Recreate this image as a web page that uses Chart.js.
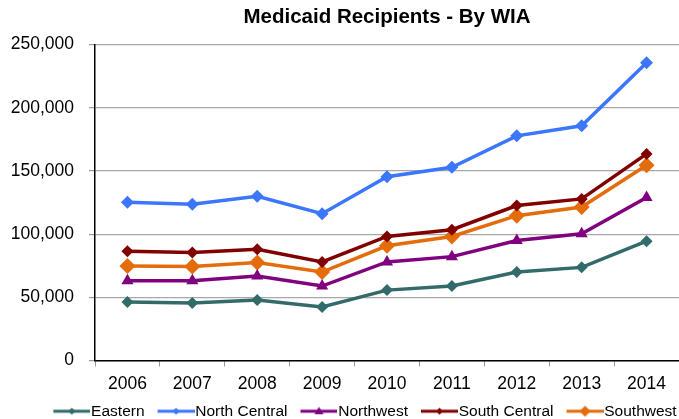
<!DOCTYPE html>
<html>
<head>
<meta charset="utf-8">
<script src="https://cdn.jsdelivr.net/npm/chart.js@4"></script>
<style>
  html, body { margin:0; padding:0; background:#fff; overflow:hidden; }
  #wrap { width:679px; height:419px; overflow:hidden; }
  #box { width:687px; height:429px; }
</style>
</head>
<body>
<div id="wrap"><div id="box"><canvas id="chart"></canvas></div></div>
<script>
// ==================== DATA ====================
const years = ['2006','2007','2008','2009','2010','2011','2012','2013','2014'];
const eastern      = [46200, 45600, 47800, 42400, 55700, 58900, 70000, 73700, 94400];
const northCentral = [125200, 123700, 130000, 116200, 145400, 152900, 177800, 185700, 235700];
const northwest    = [63100, 63100, 66900, 58900, 78000, 82200, 95000, 100300, 129000];
const southCentral = [86500, 85400, 88000, 78000, 98200, 103500, 122600, 127900, 163500];
const southwest    = [74800, 74300, 77500, 70000, 90800, 98200, 114600, 121500, 154500];
const yTicks = [0, 50000, 100000, 150000, 200000, 250000];

const FONT = 'Liberation Sans, Arial, sans-serif';

// legend icon: transparent left margin, then a line with a marker in the middle
function legendIcon(color, shape){
  const m = 19, w = 37;
  const c = document.createElement('canvas');
  c.width = m + w; c.height = 12;
  const g = c.getContext('2d');
  g.strokeStyle = color; g.lineWidth = 3;
  g.beginPath(); g.moveTo(m,6); g.lineTo(m+w,6); g.stroke();
  g.fillStyle = color;
  const cx = m + w/2;
  g.beginPath();
  if(shape === 'triangle'){
    g.moveTo(cx,1.5); g.lineTo(cx+4.5,9); g.lineTo(cx-4.5,9);
  } else {
    const r = shape === 'big' ? 5.5 : 3.5;
    g.moveTo(cx,6-r); g.lineTo(cx+r,6); g.lineTo(cx,6+r); g.lineTo(cx-r,6);
  }
  g.closePath(); g.fill();
  return c;
}

const series = [
  {label:'Eastern',       data:eastern,      color:'#336b6b', style:'rectRot',  r:6,   icon:'diamond'},
  {label:'North Central', data:northCentral, color:'#3b76fc', style:'rectRot',  r:6.5, icon:'diamond'},
  {label:'Northwest',     data:northwest,    color:'#800080', style:'triangle', r:7,   icon:'triangle'},
  {label:'South Central', data:southCentral, color:'#800000', style:'rectRot',  r:6,   icon:'diamond'},
  {label:'Southwest',     data:southwest,    color:'#e46c0a', style:'rectRot',  r:8,   icon:'big'}
];
const icons = series.map(s => legendIcon(s.color, s.icon));

// legend sits a bit left of the plot centre, like the original
const legendShift = {
  id: 'legendShift',
  afterLayout(chart){ chart.legend.left = 32; }
};

new Chart(document.getElementById('chart'), {
  type: 'line',
  data: {
    labels: years,
    datasets: series.map(s => ({
      label: s.label,
      data: s.data,
      borderColor: s.color,
      backgroundColor: s.color,
      borderWidth: 3.5,
      pointStyle: s.style,
      pointRadius: s.r,
      pointBorderWidth: 0,
      tension: 0
    }))
  },
  plugins: [legendShift],
  options: {
    responsive: true,
    maintainAspectRatio: false,
    animation: false,
    layout: { padding: { left: 8, right: 1, top: 0, bottom: 0 } },
    plugins: {
      title: {
        display: true,
        fullSize: false,
        text: 'Medicaid Recipients - By WIA',
        color: '#000',
        font: { family: FONT, size: 20.5, weight: 'bold' },
        padding: { top: 5, bottom: 15 }
      },
      legend: {
        position: 'bottom',
        labels: {
          color: '#000',
          font: { family: FONT, size: 15.5 },
          usePointStyle: true,
          pointStyleWidth: 42,
          boxHeight: 12,
          padding: 1,
          generateLabels: chart => Chart.defaults.plugins.legend.labels.generateLabels(chart)
            .map((l, i) => ({ ...l, pointStyle: icons[i] }))
        }
      },
      tooltip: { enabled: false }
    },
    scales: {
      x: {
        offset: true,
        afterFit: axis => { axis.height = 42; },
        grid: { offset: true, drawOnChartArea: false, drawTicks: true, tickLength: 6, color: '#999' },
        border: { display: true, color: '#000', width: 1.5 },
        ticks: { color: '#000', font: { family: FONT, size: 17.5 }, padding: 7 }
      },
      y: {
        min: 0,
        max: 250000,
        afterBuildTicks: axis => { axis.ticks = yTicks.map(v => ({ value: v })); },
        afterFit: axis => { axis.width = 87; },
        grid: { color: '#a8a8a8', lineWidth: 1.2, tickLength: 6, tickColor: '#999' },
        border: { display: true, color: '#000', width: 1.5 },
        ticks: {
          color: '#000',
          font: { family: FONT, size: 17.5 },
          padding: 15,
          callback: v => v.toLocaleString('en-US')
        }
      }
    }
  }
});
</script>
</body>
</html>
